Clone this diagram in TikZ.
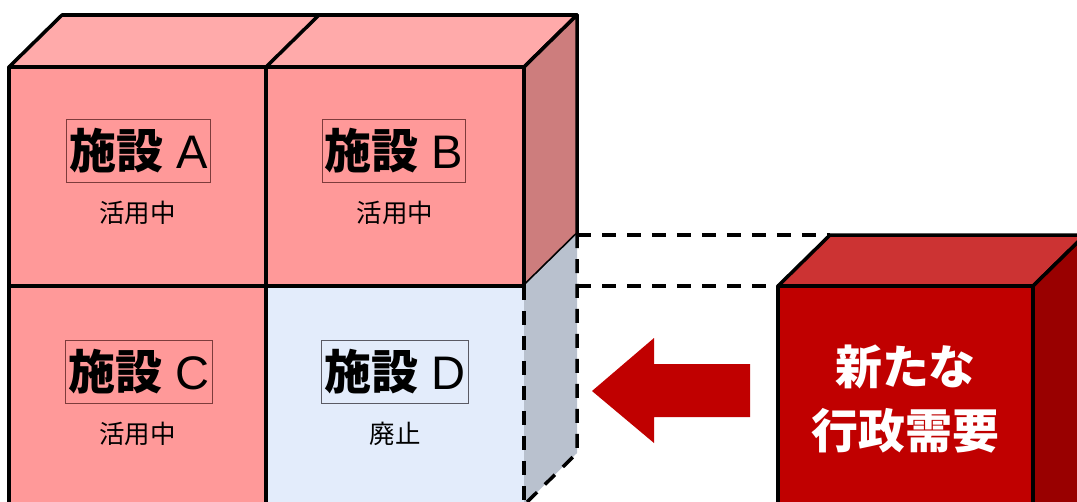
\documentclass[tikz,border=0pt]{standalone}
\usepackage{fontspec}
\setmainfont{Liberation Sans}
\newfontfamily\jpfont{Noto Sans CJK JP}
\usetikzlibrary{positioning}
\definecolor{cellfront}{RGB}{255,153,153}
\definecolor{celltop}{RGB}{255,170,170}
\definecolor{cellside}{RGB}{205,125,125}
\definecolor{idlefront}{RGB}{227,236,251}
\definecolor{idleside}{RGB}{185,193,206}
\definecolor{demandfront}{RGB}{192,0,0}
\definecolor{demandtop}{RGB}{204,51,51}
\definecolor{demandside}{RGB}{153,0,0}
\definecolor{labelrim}{RGB}{125,60,60}
\definecolor{idlerim}{RGB}{90,90,100}
\tikzset{face/.style = {draw, line width=2pt, line join=round}}
\tikzset{gone/.style = {line width=2pt, dash pattern=on 0.28cm off 0.22cm}}
\tikzset{namebox/.style = {draw=labelrim, line width=0.6pt, inner xsep=0.05cm,
                           inner ysep=0pt, minimum height=1.26cm,
                           font=\fontsize{26.8}{29}\selectfont}}
\tikzset{state/.style = {font=\jpfont\fontsize{14.5}{16}\selectfont}}
\tikzset{demand/.style = {text=white, align=center,
                          font=\jpfont\bfseries\fontsize{26.7}{36.4}\selectfont}}
\newcommand{\facility}[1]{{\jpfont\bfseries 施設} #1}
\begin{document}
\begin{tikzpicture}[x=0.02cm, y=-0.02cm]
      \clip (0,0) rectangle (1077,501);
      \filldraw[face, fill=celltop] (9,67) -- (62,15) -- (577,15) -- (524,67) -- cycle;
      \draw[face] (266,67) -- (319,15);
      \filldraw[face, fill=cellside] (524,67) -- (577,15) -- (577,234) -- (524,286) -- cycle;
      \fill[idleside] (524,286) -- (577,234) -- (577,453) -- (524,505) -- cycle;
      \fill[idlefront] (266,286) rectangle (524,505);
      \draw[gone] (577,234) -- (577,453) -- (524,505);
      \draw[gone] (266,286) -- (266,505);
      \draw[gone] (524,286) -- (524,505);
      \filldraw[face, fill=cellfront] (9,67) rectangle (266,286);
      \filldraw[face, fill=cellfront] (266,67) rectangle (524,286);
      \filldraw[face, fill=cellfront] (9,286) rectangle (266,505);
      \draw[gone] (577,235) -- (830,235);
      \draw[gone] (577,286) -- (778,286);
      \filldraw[face, fill=demandtop] (778,286) -- (830,235) -- (1085,235) -- (1033,286) -- cycle;
      \filldraw[face, fill=demandside] (1033,286) -- (1085,235) -- (1085,520) -- (1033,520) -- cycle;
      \filldraw[face, fill=demandfront] (778,286) rectangle (1033,520);
      \fill[demandfront] (592,391) -- (654,338) -- (654,364) -- (750,364)
        -- (750,417) -- (654,417) -- (654,443) -- cycle;
      \node[namebox] (nameA) at (138.5,151) {\facility{A}};
      \node[state] (stateA) at (137.5,213) {活用中};
      \node[namebox] (nameB) at (394,151) {\facility{B}};
      \node[state] (stateB) at (395,213) {活用中};
      \node[namebox] (nameC) at (139,372) {\facility{C}};
      \node[state] (stateC) at (137.5,434) {活用中};
      \node[namebox, draw=idlerim] (nameD) at (395,372) {\facility{D}};
      \node[state] (stateD) at (395,434) {廃止};
      \node[demand] (need) at (905.5,399) {新たな\\行政需要};
    \end{tikzpicture}
\end{document}
